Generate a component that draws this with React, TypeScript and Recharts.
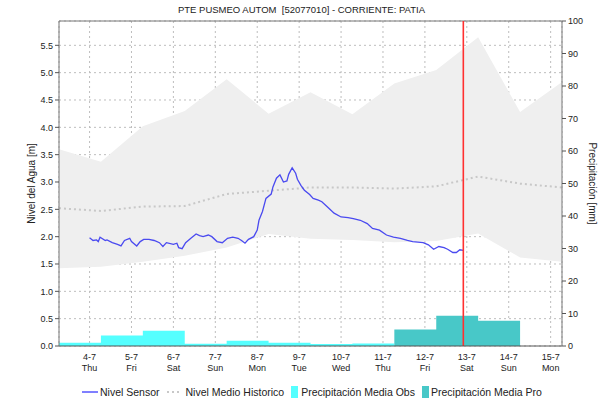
import React from "react";
import {
  ComposedChart,
  Line,
  Area,
  XAxis,
  YAxis,
  CartesianGrid,
  ReferenceLine,
  Legend,
  Label,
} from "recharts";

const FONT = '"Liberation Sans", Arial, Helvetica, sans-serif';

// x values are hours counted from 4-7 00:00
const TICK_HOURS = [0, 24, 48, 72, 96, 120, 144, 168, 192, 216, 240, 264];
const DATE_LABELS = ["4-7", "5-7", "6-7", "7-7", "8-7", "9-7", "10-7", "11-7", "12-7", "13-7", "14-7", "15-7"];
const WEEKDAYS = ["Thu", "Fri", "Sat", "Sun", "Mon", "Tue", "Wed", "Thu", "Fri", "Sat", "Sun", "Mon"];

// daily boundaries (07:00 approx.)
const DAY_STARTS = [-17.5, 6.5, 30.5, 54.5, 78.5, 102.5, 126.5, 150.5, 174.5, 198.5, 222.5, 246.5, 270.5];
const HIST_MAX = [3.6, 3.37, 4.02, 4.3, 4.88, 4.25, 4.64, 4.24, 4.8, 5.05, 5.65, 4.28, 4.83];
const HIST_MIN = [1.42, 1.45, 1.54, 1.65, 1.8, 2.05, 1.96, 1.94, 1.9, 1.92, 2.06, 1.62, 1.54];
const HIST_MEAN = [2.52, 2.47, 2.55, 2.56, 2.78, 2.84, 2.9, 2.9, 2.88, 2.92, 3.1, 2.97, 2.9];

// precipitation per day (mm), last value closes the step
const OBS_STARTS = [-17.5, 6.5, 30.5, 54.5, 78.5, 102.5, 126.5, 150.5, 174.5];
const OBS_MM = [1.0, 3.2, 4.7, 0.7, 1.6, 1.0, 0.6, 0.8, 0];
const PRO_STARTS = [174.5, 198.5, 222.5, 246.5];
const PRO_MM = [5.1, 9.3, 7.8, 0];

const SENSOR_HOURS = [
  0, 2, 4, 5, 6, 9, 10, 13, 16, 18, 20, 23, 24, 27, 29, 31, 34, 37, 40, 42, 44, 48, 50, 51, 53, 55, 58,
  61, 63, 65, 68, 70, 73, 76, 79, 82, 85, 87, 89, 91, 94, 96, 97, 99, 101, 104, 105, 107, 109, 111, 113,
  114, 116, 118, 119, 121, 123, 126, 128, 131, 133, 137, 140, 144, 148, 151, 155, 159, 162, 166, 170,
  174, 178, 182, 185, 188, 191, 194, 197, 200, 203, 205, 208, 210, 212, 214,
];
const SENSOR_LEVEL = [
  1.98, 1.93, 1.94, 1.91, 1.99, 1.93, 1.94, 1.89, 1.86, 1.83, 1.93, 1.97, 1.91, 1.83, 1.91, 1.95, 1.95,
  1.93, 1.89, 1.82, 1.89, 1.86, 1.88, 1.8, 1.78, 1.89, 1.97, 2.05, 2.02, 2.0, 2.03, 2.0, 1.91, 1.89, 1.97,
  1.99, 1.97, 1.93, 1.88, 1.95, 2.0, 2.12, 2.3, 2.46, 2.7, 2.78, 2.91, 3.07, 3.13, 3.0, 3.02, 3.14, 3.26,
  3.16, 3.05, 2.94, 2.85, 2.77, 2.7, 2.67, 2.64, 2.52, 2.43, 2.36, 2.35, 2.33, 2.3, 2.24, 2.15, 2.12,
  2.03, 1.99, 1.97, 1.93, 1.91, 1.9, 1.89, 1.85, 1.77, 1.82, 1.8, 1.77, 1.71, 1.71, 1.76, 1.75,
];
const NOW_HOUR = 214;

const LEFT_TICKS = [0, 0.5, 1, 1.5, 2, 2.5, 3, 3.5, 4, 4.5, 5, 5.5];
const RIGHT_TICKS = [0, 10, 20, 30, 40, 50, 60, 70, 80, 90, 100];

const histData = DAY_STARTS.map((h, i) => ({ h, band: [HIST_MIN[i], HIST_MAX[i]], mean: HIST_MEAN[i] }));
const obsData = OBS_STARTS.map((h, i) => ({ h, mm: OBS_MM[i] }));
const proData = PRO_STARTS.map((h, i) => ({ h, mm: PRO_MM[i] }));
const sensorData = SENSOR_HOURS.map((h, i) => ({ h, level: SENSOR_LEVEL[i] }));

const DayTick = ({ x, y, payload }: any) => {
  const i = TICK_HOURS.indexOf(payload.value);
  return (
    <text x={x} y={y} textAnchor="middle" fontSize={9} fill="#222" fontFamily={FONT}>
      <tspan x={x} dy={12}>{DATE_LABELS[i]}</tspan>
      <tspan x={x} dy={11}>{WEEKDAYS[i]}</tspan>
    </text>
  );
};

const LegendContent = () => (
  <div
    style={{
      display: "flex",
      alignItems: "center",
      height: 24,
      paddingLeft: 82,
      fontFamily: FONT,
      fontSize: 10.5,
      color: "#222",
      whiteSpace: "nowrap",
    }}
  >
    <svg width={16} height={10} style={{ marginRight: 2 }}>
      <line x1={0} y1={5} x2={16} y2={5} stroke="#0000ff" strokeWidth={1} />
    </svg>
    <span style={{ marginRight: 7 }}>Nivel Sensor</span>
    <svg width={15} height={10} style={{ marginRight: 4 }}>
      <line x1={0} y1={5} x2={15} y2={5} stroke="#c8c8c8" strokeWidth={2} strokeDasharray="2 3" />
    </svg>
    <span style={{ marginRight: 7 }}>Nivel Medio Historico</span>
    <span style={{ width: 7, height: 12, background: "#55ffff", marginRight: 3, display: "inline-block" }} />
    <span style={{ marginRight: 7 }}>Precipitación Media Obs</span>
    <span style={{ width: 7, height: 12, background: "#48c8c8", marginRight: 2, display: "inline-block" }} />
    <span>Precipitación Media Pro</span>
  </div>
);

const LeftTitle = ({ viewBox }: any) => {
  const cx = viewBox.x + 31;
  const cy = viewBox.y + viewBox.height / 2;
  return (
    <text x={cx} y={cy} transform={`rotate(-90 ${cx} ${cy})`} textAnchor="middle" dominantBaseline="central" fontSize={10} fill="#222" fontFamily={FONT}>
      Nivel del Agua [m]
    </text>
  );
};

const RightTitle = ({ viewBox }: any) => {
  const cx = viewBox.x + 30;
  const cy = viewBox.y + viewBox.height / 2;
  return (
    <text x={cx} y={cy} transform={`rotate(90 ${cx} ${cy})`} textAnchor="middle" dominantBaseline="central" fontSize={10} fill="#222" fontFamily={FONT}>
      Precipitación [mm]
    </text>
  );
};

export default function App() {
  return (
    <div style={{ position: "absolute", left: 0, top: 0, width: 603, height: 404, background: "#fff", fontFamily: FONT }}>
      <div style={{ position: "absolute", top: 4, left: 0, width: 603, textAlign: "center", fontSize: 9.5, color: "#222" }}>
        PTE PUSMEO AUTOM&nbsp;&nbsp;[52077010] - CORRIENTE: PATIA
      </div>
      <ComposedChart width={603} height={404} margin={{ top: 21, right: 0, left: 0, bottom: 0 }}>
        <CartesianGrid yAxisId="left" stroke="#bdbdbd" strokeDasharray="2 3" />
        <XAxis
          dataKey="h"
          type="number"
          domain={[-17.5, 270.5]}
          ticks={TICK_HOURS}
          allowDataOverflow
          height={34}
          tickSize={0}
          tickLine={false}
          axisLine={{ stroke: "#555" }}
          tick={<DayTick />}
        />
        <YAxis
          yAxisId="left"
          width={59}
          domain={[0, 5.945]}
          ticks={LEFT_TICKS}
          allowDataOverflow
          tickFormatter={(v: number) => v.toFixed(1)}
          tick={{ fontSize: 9, fill: "#222", fontFamily: FONT }}
          tickSize={4}
          tickMargin={2}
          axisLine={{ stroke: "#777" }}
          tickLine={{ stroke: "#555" }}
        >
          <Label content={<LeftTitle />} />
        </YAxis>
        <YAxis
          yAxisId="right"
          orientation="right"
          width={41}
          domain={[0, 100]}
          ticks={RIGHT_TICKS}
          tick={{ fontSize: 9, fill: "#222", fontFamily: FONT }}
          tickSize={4}
          tickMargin={2}
          axisLine={{ stroke: "#777" }}
          tickLine={{ stroke: "#555" }}
        >
          <Label content={<RightTitle />} />
        </YAxis>
        <ReferenceLine yAxisId="right" y={100} stroke="#777" />
        <Area
          yAxisId="left"
          data={histData}
          dataKey="band"
          type="linear"
          fill="#efefef"
          fillOpacity={1}
          stroke="none"
          isAnimationActive={false}
          legendType="none"
        />
        <Area
          yAxisId="right"
          data={obsData}
          dataKey="mm"
          type="stepAfter"
          fill="#55ffff"
          fillOpacity={1}
          stroke="none"
          isAnimationActive={false}
          name="Precipitación Media Obs"
        />
        <Area
          yAxisId="right"
          data={proData}
          dataKey="mm"
          type="stepAfter"
          fill="#48c8c8"
          fillOpacity={1}
          stroke="none"
          isAnimationActive={false}
          name="Precipitación Media Pro"
        />
        <Line
          yAxisId="left"
          data={histData}
          dataKey="mean"
          type="linear"
          stroke="#c8c8c8"
          strokeWidth={2}
          strokeDasharray="2 3"
          dot={false}
          isAnimationActive={false}
          name="Nivel Medio Historico"
        />
        <Line
          yAxisId="left"
          data={sensorData}
          dataKey="level"
          type="linear"
          stroke="#4a4af0"
          strokeWidth={1.3}
          dot={false}
          isAnimationActive={false}
          name="Nivel Sensor"
        />
        <ReferenceLine yAxisId="left" x={NOW_HOUR} stroke="#ff3030" strokeOpacity={1} strokeWidth={1.6} />
        <Legend verticalAlign="bottom" height={24} content={<LegendContent />} wrapperStyle={{ left: 0, width: 603 }} />
      </ComposedChart>
    </div>
  );
}
